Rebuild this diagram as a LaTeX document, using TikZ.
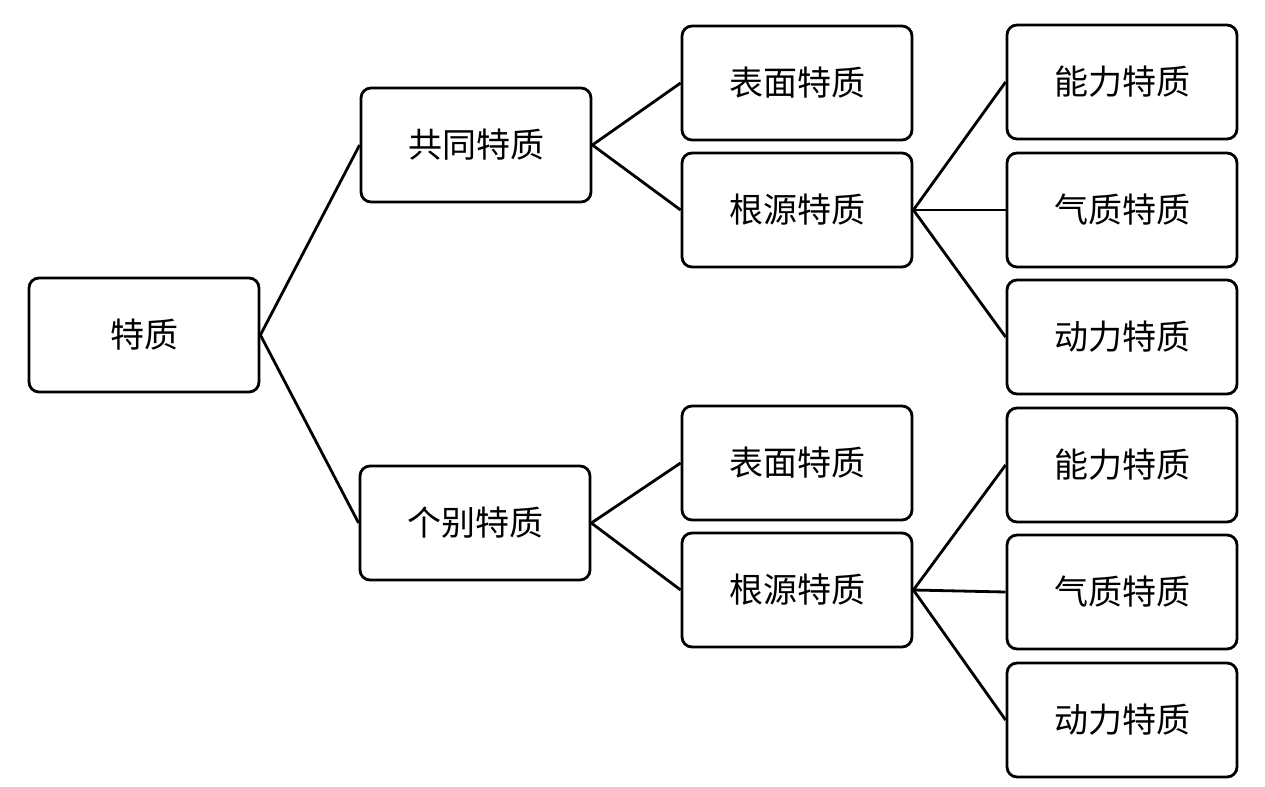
\documentclass[tikz,border=0pt]{standalone}
\usepackage{fontspec}
\setmainfont{Noto Sans CJK SC}
\usetikzlibrary{positioning}

\begin{document}
\begin{tikzpicture}[
      x=0.5pt,
      y=-0.5pt,
      box/.style={
          rectangle,
          draw,
          line width=1.4pt,
          rounded corners=5pt,
          align=center,
          minimum width=115pt,
          minimum height=57pt,
          font=\fontsize{17}{20}\selectfont
        },
      link/.style={
          line width=1.4pt
        }
    ]
    \useasboundingbox (0,0) rectangle (1265,787);

    % Nodes
    \node[box] (root) at (144,335) {特质};
    \node[box] (gong) at (476,145) {共同特质};
    \node[box] (ge) at (475,523) {个别特质};
    \node[box] (gbiao) at (797,83) {表面特质};
    \node[box] (ggen) at (797,210) {根源特质};
    \node[box] (gneng) at (1122,82) {能力特质};
    \node[box] (gqi) at (1122,210) {气质特质};
    \node[box] (gdong) at (1122,337) {动力特质};
    \node[box] (bbiao) at (797,463) {表面特质};
    \node[box] (bgen) at (797,590) {根源特质};
    \node[box] (bneng) at (1122,465) {能力特质};
    \node[box] (bqi) at (1122,592) {气质特质};
    \node[box] (bdong) at (1122,720) {动力特质};

    % Links
    \draw[link] (root.east) -- (gong.west);
    \draw[link] (root.east) -- (ge.west);
    \draw[link] (gong.east) -- (gbiao.west);
    \draw[link] (gong.east) -- (ggen.west);
    \draw[link] (ggen.east) -- (gneng.west);
    \draw[link] (ggen.east) -- (gqi.west);
    \draw[link] (ggen.east) -- (gdong.west);
    \draw[link] (ge.east) -- (bbiao.west);
    \draw[link] (ge.east) -- (bgen.west);
    \draw[link] (bgen.east) -- (bneng.west);
    \draw[link] (bgen.east) -- (bqi.west);
    \draw[link] (bgen.east) -- (bdong.west);

  \end{tikzpicture}
\end{document}
